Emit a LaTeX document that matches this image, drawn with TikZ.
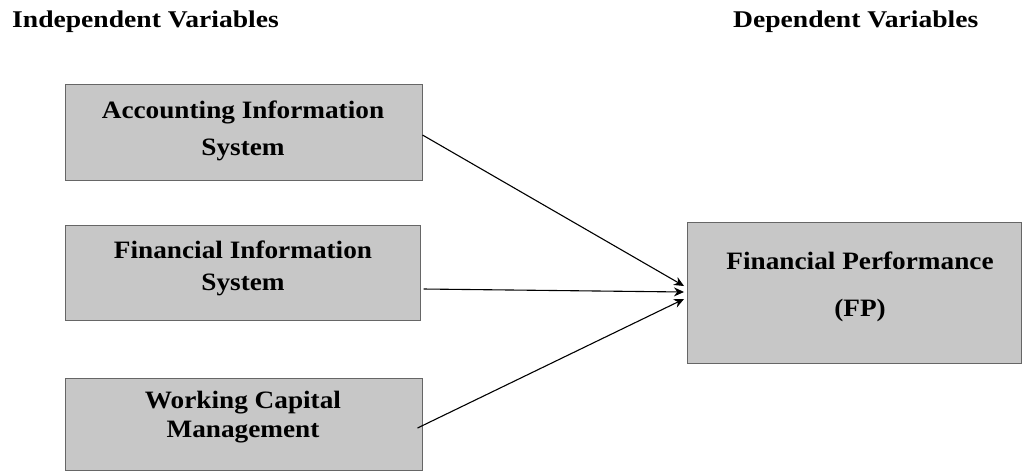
\documentclass[tikz,border=0pt]{standalone}
\usepackage{fontspec}
\setmainfont{Liberation Serif}
\newfontfamily\boxfont[FakeStretch=1.09]{Liberation Serif}
\newfontfamily\headfont[FakeStretch=1.15]{Liberation Serif}
\usetikzlibrary{arrows.meta}
\begin{document}
\begin{tikzpicture}[x=1pt,y=-1pt,
  varbox/.style={draw=black!60, line width=1pt, fill=black!22, inner sep=0pt},
  boxtext/.style={font=\boxfont\bfseries\fontsize{25}{30}\selectfont, align=center, anchor=base, inner sep=0pt},
  headtext/.style={font=\headfont\bfseries\fontsize{24}{28}\selectfont, anchor=base west, inner sep=0pt},
  link/.style={line width=1.1pt, -{Stealth[length=10pt,width=9pt]}}]
\useasboundingbox (0,0) rectangle (1024,475);
\node[headtext] (hi) at (12,27) {Independent Variables};
\node[headtext] (hd) at (733,27) {Dependent Variables};
\node[varbox, minimum width=357pt, minimum height=96pt] (ais) at (243.5,132) {};
\node[varbox, minimum width=355pt, minimum height=95pt] (fis) at (242.5,272.5) {};
\node[varbox, minimum width=357pt, minimum height=92pt] (wcm) at (243.5,424) {};
\node[varbox, minimum width=334pt, minimum height=141pt] (fp) at (854,292.5) {};
\node[boxtext] (aist) at (243,155) {Accounting Information\\[7pt]System};
\node[boxtext] (fist) at (243,290) {Financial Information\\[2pt]System};
\node[boxtext] (wcmt) at (243,437) {Working Capital\\[-1pt]Management};
\node[boxtext] (fpt) at (860,316) {Financial Performance\\[17pt](FP)};
\coordinate (t1) at (684,286);
\coordinate (t2) at (684,292);
\coordinate (t3) at (684,299);
\draw[link] (ais.east |- 0,135) -- (t1);
\draw[link] ([xshift=3pt]fis.east |- 0,289) -- (t2);
\draw[link] ([xshift=-5pt]wcm.east |- 0,428) -- (t3);
\end{tikzpicture}
\end{document}
